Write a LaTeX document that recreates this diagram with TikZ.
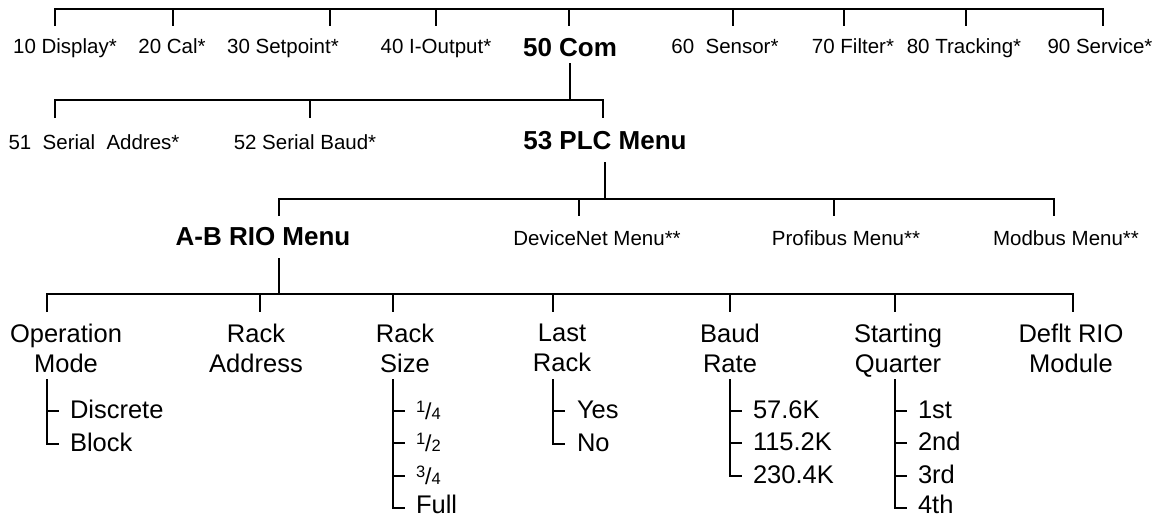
\documentclass[tikz,border=0pt]{standalone}
\usepackage{fontspec}
\setmainfont{Liberation Sans}

\begin{document}
\begin{tikzpicture}[x=1pt,y=1pt,yscale=-1,xscale=1,line width=2pt,
  lbl/.style={font=\fontsize{20.5}{24}\selectfont,anchor=base},
  head/.style={font=\bfseries\fontsize{26}{30}\selectfont,anchor=base},
  param/.style={font=\fontsize{25.5}{30}\selectfont,align=center,anchor=north,inner sep=0pt},
  item/.style={font=\fontsize{25.5}{30}\selectfont,anchor=base west,inner sep=0pt},
  frac/.style={font=\fontsize{23}{24}\selectfont,anchor=base west,inner sep=0pt}]
\useasboundingbox (0,0) rectangle (1168,517);

% Bar coordinates
\coordinate (barA) at (55,9);
\coordinate (barB) at (55,100);
\coordinate (barC) at (279,199);
\coordinate (barD) at (47,294);

% Text Node
\node [lbl] (n10) at (65,53) {10 Display*};
\node [lbl] (n20) at (172,53) {20 Cal*};
\node [lbl] (n30) at (283,53) {30 Setpoint*};
\node [lbl] (n40) at (436,53) {40 I-Output*};
\node [head] (n50) at (570,56) {50 Com};
\node [lbl] (n60) at (725,53) {60\ \ Sensor*};
\node [lbl] (n70) at (853,53) {70 Filter*};
\node [lbl] (n80) at (964,53) {80 Tracking*};
\node [lbl] (n90) at (1100,53) {90\ Service*};

%Straight Lines
\draw (barA) ++(0,17) -- (barA) -- (1103,9) -- (1103,26);
\draw (173,9) -- (173,26);
\draw (330,9) -- (330,26);
\draw (436,9) -- (436,26);
\draw (569,9) -- (569,26);
\draw (733,9) -- (733,26);
\draw (844,9) -- (844,26);
\draw (966,9) -- (966,26);

% Text Node
\node [lbl] (n51) at (94,149) {51\ \ Serial\ \ Addres*};
\node [lbl] (n52) at (305,149) {52 Serial Baud*};
\node [head] (n53) at (605,149) {53 PLC Menu};

%Straight Lines
\draw (n50.base) ++(0,7) -- (n50.base |- barB);
\draw (barB) ++(0,18) -- (barB) -- (603,100) -- (603,118);
\draw (310,100) -- (310,118);

% Text Node
\node [head] (nab) at (263,245) {A-B RIO Menu};
\node [lbl] (ndn) at (597,245) {DeviceNet Menu**};
\node [lbl] (npb) at (846,245) {Profibus Menu**};
\node [lbl] (nmb) at (1066,245) {Modbus Menu**};

%Straight Lines
\draw (n53.base) ++(0,13) -- (n53.base |- barC);
\draw (barC) ++(0,17) -- (barC) -- (1054,199) -- (1054,216);
\draw (579,199) -- (579,216);
\draw (834,199) -- (834,216);
\draw (barC |- nab.base) ++(0,13) -- (barC |- barD);

% Text Node
\node [param] (opm) at (66,323) {Operation\\Mode};
\node [param] (rad) at (256,323) {Rack\\Address};
\node [param] (rsz) at (405,323) {Rack\\Size};
\node [param] (lrk) at (562,323) {Last\\Rack};
\node [param] (bdr) at (730,323) {Baud\\Rate};
\node [param] (stq) at (898,323) {Starting\\Quarter};
\node [param] (dfm) at (1071,323) {Deflt RIO\\Module};

%Straight Lines
\draw (barD) ++(0,18) -- (barD) -- (1073,294) -- (1073,312);
\draw (260,294) -- (260,312);
\draw (393,294) -- (393,312);
\draw (553,294) -- (553,312);
\draw (730,294) -- (730,312);
\draw (895,294) -- (895,312);

% Operation Mode
\draw (47,379) -- (47,444) -- (59,444);
\draw (47,411) -- (59,411);
\node [item] (dis) at (69,418) {Discrete};
\node [item] (blk) at (69,451) {Block};

% Rack Size
\draw (393,379) -- (393,508) -- (405,508);
\draw (393,411) -- (405,411);
\draw (393,443) -- (405,443);
\draw (393,476) -- (405,476);
\node [frac] (rq1) at (415,419) {\raisebox{7pt}{\fontsize{16.5}{16}\selectfont 1}/{\fontsize{16.5}{16}\selectfont 4}};
\node [frac] (rq2) at (415,451) {\raisebox{7pt}{\fontsize{16.5}{16}\selectfont 1}/{\fontsize{16.5}{16}\selectfont 2}};
\node [frac] (rq3) at (415,484) {\raisebox{7pt}{\fontsize{16.5}{16}\selectfont 3}/{\fontsize{16.5}{16}\selectfont 4}};
\node [item] (rq4) at (415,513) {Full};

% Last Rack
\draw (553,379) -- (553,444) -- (565,444);
\draw (553,411) -- (565,411);
\node [item] (yes) at (576,418) {Yes};
\node [item] (no) at (576,451) {No};

% Baud Rate
\draw (730,379) -- (730,476) -- (742,476);
\draw (730,411) -- (742,411);
\draw (730,443) -- (742,443);
\node [item] (b1) at (752,418) {57.6K};
\node [item] (b2) at (752,450) {115.2K};
\node [item] (b3) at (752,483) {230.4K};

% Starting Quarter
\draw (895,379) -- (895,508) -- (907,508);
\draw (895,411) -- (907,411);
\draw (895,443) -- (907,443);
\draw (895,476) -- (907,476);
\node [item] (q1) at (917,418) {1st};
\node [item] (q2) at (917,450) {2nd};
\node [item] (q3) at (917,483) {3rd};
\node [item] (q4) at (917,513) {4th};

\end{tikzpicture}
\end{document}
